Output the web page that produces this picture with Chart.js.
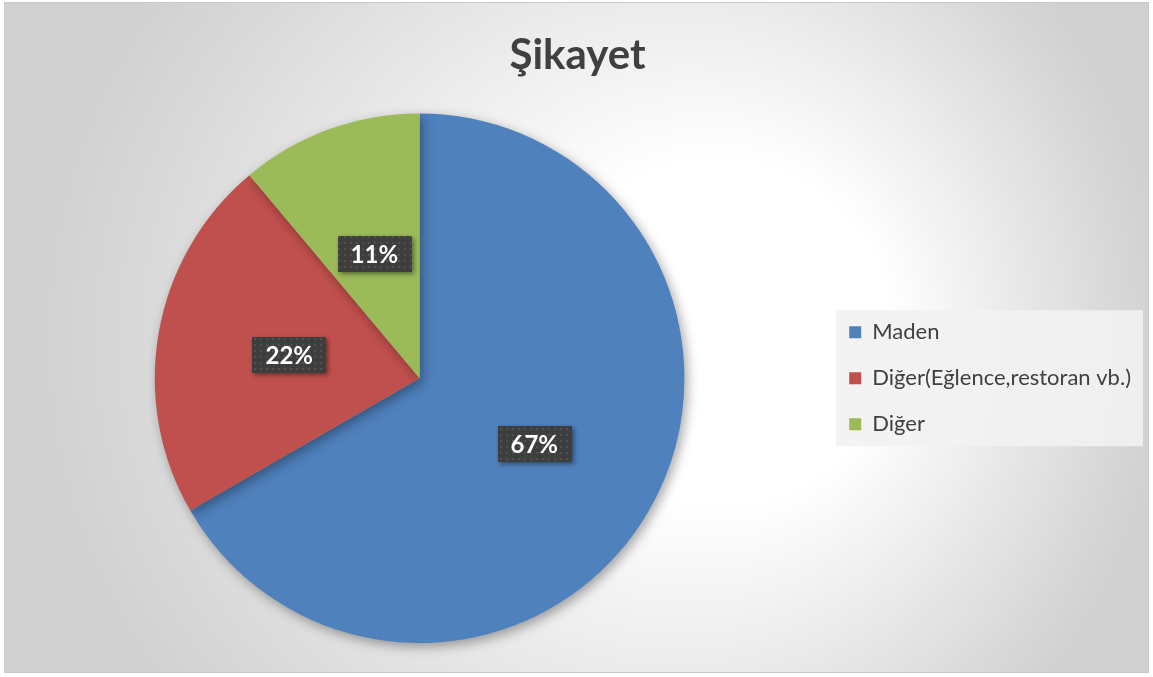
<!DOCTYPE html>
<html>
<head>
<meta charset="utf-8">
<script src="https://cdn.jsdelivr.net/npm/chart.js@4/dist/chart.umd.min.js"></script>
<style>
html,body{margin:0;padding:0;background:#fff;}
#wrap{width:1153px;height:677px;position:relative;}
</style>
</head>
<body>
<div id="wrap"><canvas id="c" width="1153" height="677"></canvas></div>
<script>
const titleText = 'Şikayet';
const categories = ['Maden', 'Diğer(Eğlence,restoran vb.)', 'Diğer'];
const values = [6, 2, 1];

const sliceColors = ['#4f81bd', '#c0504d', '#9bbb59'];
const FONT = 'Lato, "Open Sans", sans-serif';

function makePattern(ctx) {
  const p = document.createElement('canvas');
  p.width = 6; p.height = 6;
  const pc = p.getContext('2d');
  pc.fillStyle = '#3e3e3e';
  pc.fillRect(0, 0, 6, 6);
  pc.fillStyle = '#505050';
  pc.fillRect(2, 2, 2, 2);
  return ctx.createPattern(p, 'repeat');
}

const bgPlugin = {
  id: 'bg',
  beforeDraw(chart) {
    const ctx = chart.ctx;
    ctx.save();
    ctx.fillStyle = '#ffffff';
    ctx.fillRect(0, 0, chart.width, chart.height);
    const g = ctx.createRadialGradient(770, 330, 0, 600, 340, 570);
    g.addColorStop(0, '#ffffff');
    g.addColorStop(0.3, '#ffffff');
    g.addColorStop(0.85, '#d9d9d9');
    g.addColorStop(1, '#d0d0d0');
    ctx.fillStyle = g;
    ctx.fillRect(4, 2, 1145, 671);
    ctx.strokeStyle = '#c8c8c8';
    ctx.lineWidth = 1;
    ctx.strokeRect(4.5, 2.5, 1144, 670);
    const lg = chart.legend;
    if (lg && lg.legendHitBoxes && lg.legendHitBoxes.length) {
      const hb = lg.legendHitBoxes;
      let l = Infinity, r = -Infinity, t = Infinity, b = -Infinity;
      hb.forEach(h => {
        l = Math.min(l, h.left); r = Math.max(r, h.left + h.width);
        t = Math.min(t, h.top); b = Math.max(b, h.top + h.height);
      });
      ctx.fillStyle = 'rgba(242,242,242,0.9)';
      const x0 = l - 13, y0 = t - 11, x1 = r + 12, y1 = b + 11;
      ctx.fillRect(x0, y0, x1 - x0, y1 - y0);
    }
    ctx.restore();
  }
};

const shadowPlugin = {
  id: 'sliceShadow',
  beforeDatasetDraw(chart) {
    const ctx = chart.ctx;
    ctx.save();
    ctx.shadowColor = 'rgba(0,0,0,0.35)';
    ctx.shadowBlur = 12;
    ctx.shadowOffsetX = 3;
    ctx.shadowOffsetY = 4;
  },
  afterDatasetDraw(chart) {
    chart.ctx.restore();
  }
};

const labelPlugin = {
  id: 'pctLabels',
  afterDatasetsDraw(chart) {
    const ctx = chart.ctx;
    const meta = chart.getDatasetMeta(0);
    const data = chart.data.datasets[0].data;
    const total = data.reduce((a, b) => a + b, 0);
    const pat = makePattern(ctx);
    ctx.save();
    ctx.font = 'bold 24px ' + FONT;
    ctx.textAlign = 'center';
    ctx.textBaseline = 'middle';
    meta.data.forEach((arc, i) => {
      const pos = arc.tooltipPosition();
      const txt = Math.round(data[i] / total * 100) + '%';
      const w = ctx.measureText(txt).width + 26;
      const h = 36;
      ctx.save();
      ctx.shadowColor = 'rgba(0,0,0,0.45)';
      ctx.shadowBlur = 5;
      ctx.shadowOffsetX = 2;
      ctx.shadowOffsetY = 2;
      ctx.fillStyle = pat;
      ctx.fillRect(Math.round(pos.x - w / 2), Math.round(pos.y - h / 2), Math.round(w), h);
      ctx.restore();
      ctx.fillStyle = '#ffffff';
      ctx.fillText(txt, pos.x, pos.y + 1);
    });
    ctx.restore();
  }
};

new Chart(document.getElementById('c'), {
  type: 'pie',
  data: {
    labels: categories,
    datasets: [{
      data: values,
      backgroundColor: sliceColors,
      borderWidth: 0
    }]
  },
  options: {
    responsive: false,
    animation: false,
    layout: { padding: { top: 10, bottom: 34, left: 14, right: 12 } },
    plugins: {
      title: {
        display: true,
        text: titleText,
        color: '#404040',
        font: { family: FONT, size: 42, weight: 'bold', lineHeight: 1.2 },
        padding: { top: 20, bottom: 33 }
      },
      legend: {
        position: 'right',
        align: 'center',
        fullSize: false,
        labels: {
          boxWidth: 12,
          boxHeight: 12,
          padding: 24,
          color: '#404040',
          font: { family: FONT, size: 22 }
        }
      },
      tooltip: { enabled: false }
    }
  },
  plugins: [bgPlugin, shadowPlugin, labelPlugin]
});
</script>
</body>
</html>
